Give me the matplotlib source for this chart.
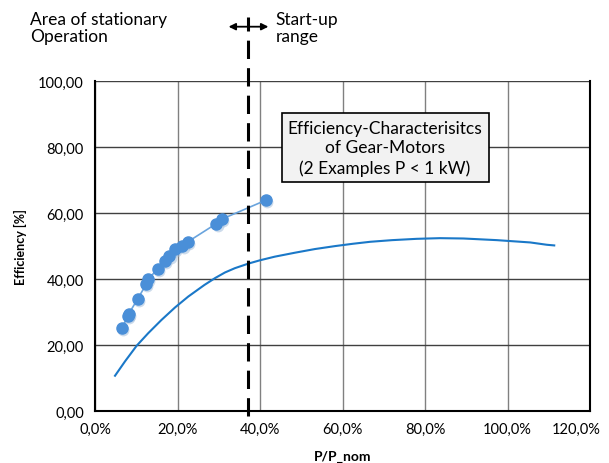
import numpy as np
import matplotlib.pyplot as plt
import matplotlib.transforms as mtransforms
from matplotlib.ticker import FuncFormatter

# --- data (x in %, y = efficiency in %) ---
pts_x = [6.5, 8.0, 8.2, 10.3, 12.4, 12.9, 15.3, 17.0, 18.0, 19.4, 21.2, 22.5, 29.4, 30.8, 41.4]
pts_y = [25.1, 28.9, 29.5, 33.9, 38.4, 40.1, 43.1, 45.6, 46.9, 49.2, 50.1, 51.3, 56.8, 58.2, 63.9]

curve_x = [4.85, 7.3, 10.1, 12.9, 16.1, 19.4, 22.6, 26.5, 29.1, 31.5, 33.9, 37.2, 40.0,
           43.6, 48.5, 53.3, 58.2, 62.5, 66.7, 72.0, 78.0, 83.6, 89.3, 97.4, 105.5, 109.5, 111.3]
curve_y = [10.7, 15.1, 19.8, 23.6, 27.6, 31.4, 34.7, 38.2, 40.3, 42.0, 43.3, 44.7, 45.7,
           46.8, 48.0, 49.1, 50.0, 50.7, 51.3, 51.8, 52.2, 52.4, 52.3, 51.8, 51.1, 50.4, 50.2]

boundary = 37.2

plt.rcParams['font.family'] = ['Lato', 'DejaVu Sans']

fig = plt.figure(figsize=(6.09, 4.64), dpi=100)
ax = fig.add_axes([0.156, 0.112, 0.813, 0.711])

ax.plot(curve_x, curve_y, color='#1a78c8', lw=1.5, zorder=3, solid_joinstyle='round')

# point series with a soft shadow
ax.plot(np.array(pts_x) + 0.3, np.array(pts_y) - 0.6, 'o', ms=8.5, color='#9bb8d8', alpha=0.5,
        mec='none', zorder=3)
ax.plot(pts_x, pts_y, '-', color='#6aa4dd', lw=1.2, zorder=4)
ax.plot(pts_x, pts_y, 'o', ms=8, color='#4a8fd8', mec='#4a8fd8', zorder=5)

ax.set_xlim(0, 120)
ax.set_ylim(0, 100)
ax.set_xticks(np.arange(0, 121, 20))
ax.set_yticks(np.arange(0, 101, 20))
ax.xaxis.set_major_formatter(FuncFormatter(lambda v, p: f'{v:.1f}%'.replace('.', ',')))
ax.yaxis.set_major_formatter(FuncFormatter(lambda v, p: f'{v:.2f}'.replace('.', ',')))
ax.tick_params(length=0, labelsize=10.5, pad=8)

# last x label pushed inside the figure like the original
last = ax.get_xticklabels()[-1]
last.set_ha('right')
last.set_transform(last.get_transform() + mtransforms.ScaledTranslation(0.11, 0, fig.dpi_scale_trans))

ax.grid(axis='x', color='#808080', lw=1.0)
ax.grid(axis='y', color='#404040', lw=1.0)
ax.set_axisbelow(True)
for s in ['left', 'bottom', 'right']:
    ax.spines[s].set_linewidth(1.5)
    ax.spines[s].set_color('black')
ax.spines['top'].set_visible(False)

ax.set_xlabel('P/P_nom', fontsize=10, fontweight='bold', labelpad=10)
ax.set_ylabel('Efficiency [%]', fontsize=9, fontweight='bold', labelpad=8)

# boundary line spanning beyond the plot
ax.plot([boundary, boundary], [-1.5, 119.5], color='black', lw=2.2, ls=(0, (6, 3)),
        clip_on=False, zorder=6)
ax.annotate('', xy=(boundary - 5.5, 116.5), xytext=(boundary + 5.5, 116.5),
            arrowprops=dict(arrowstyle='<|-|>', color='black', lw=1.3, mutation_scale=10),
            annotation_clip=False)

fig.text(0.049, 0.975, 'Area of stationary\nOperation', fontsize=12.5, va='top', ha='left',
         linespacing=1.1)
fig.text(0.452, 0.975, 'Start-up\nrange', fontsize=12.5, va='top', ha='left', linespacing=1.1)

ax.text(70.3, 79.8, 'Efficiency-Characterisitcs\nof Gear-Motors\n(2 Examples P < 1 kW)',
        fontsize=12.5, ha='center', va='center', linespacing=1.3, zorder=7,
        bbox=dict(boxstyle='square,pad=0.35', fc='#f2f2f2', ec='black', lw=1.2))

fig.savefig('out.png', dpi=100)
